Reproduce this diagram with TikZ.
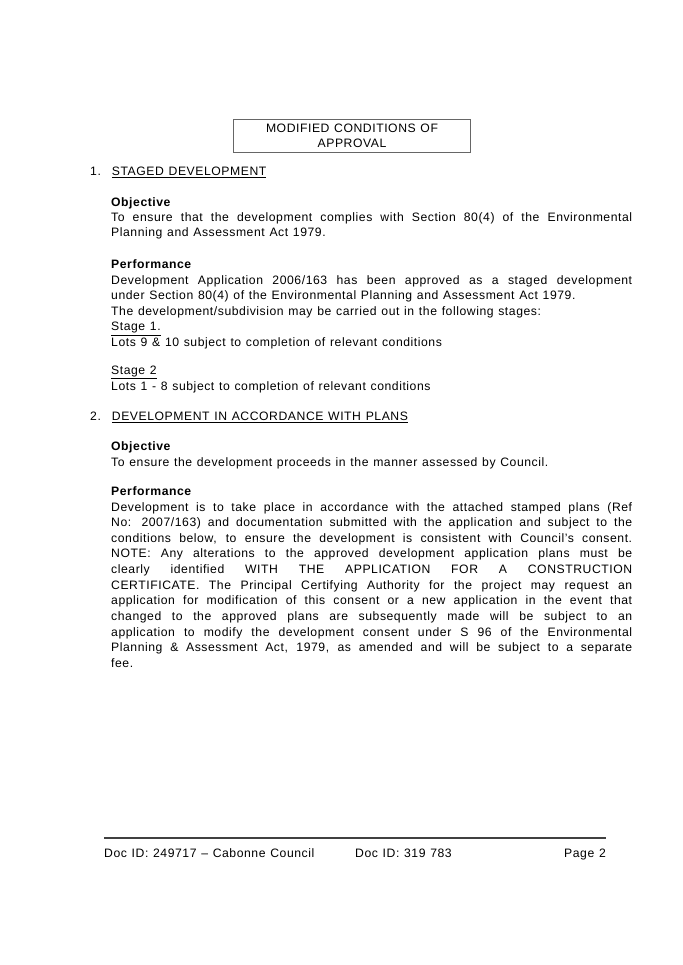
\documentclass[tikz,border=0pt]{standalone}
\usepackage{fontspec}
\setmainfont{Liberation Sans}[LetterSpace=4.5, WordSpace={1.2,1,1}]
\usetikzlibrary{positioning}
\tikzset{
  body/.style={anchor=north west, inner sep=0pt, text width=521pt, align=justify,
    font=\fontsize{12.2}{15.65}\selectfont},
  head/.style={anchor=north west, inner sep=0pt, font=\fontsize{12.2}{15.6}\selectfont},
  sub/.style={head, font=\fontsize{12.2}{15.6}\selectfont\bfseries},
  foot/.style={inner sep=0pt, font=\fontsize{12.2}{14}\selectfont}
}
\begin{document}
\begin{tikzpicture}[x=1pt,y=-1pt]
\useasboundingbox[fill=white] (0,0) rectangle (682,965);

% title box
\node (titlebox) [draw=black!60, minimum width=237pt, minimum height=33pt, align=center,
    inner sep=0pt, font=\fontsize{12.2}{15}\selectfont] at (352,136)
    {MODIFIED CONDITIONS OF\\APPROVAL};

% section 1
\node (sec1) [head] at (90,167) {1.\hspace{11pt}\underline{STAGED DEVELOPMENT}};
\node (obj1) [sub] at (111,197) {Objective};
\node (objtext1) [body] at (111,212) {To ensure that the development complies with Section 80(4) of the Environmental\linebreak
Planning and Assessment Act 1979.};
\node (perf1) [sub] at (111,259) {Performance};
\node (perftext1) [body] at (111,275) {Development Application 2006/163 has been approved as a staged development\linebreak
under Section 80(4) of the Environmental Planning and Assessment Act 1979.\\
The development/subdivision may be carried out in the following stages:\\
\underline{Stage 1.}\\
Lots 9 \& 10 subject to completion of relevant conditions};
\node (stage2) [body] at (111,366) {\underline{Stage 2}\\
Lots 1 - 8 subject to completion of relevant conditions};

% section 2
\node (sec2) [head] at (90,412) {2.\hspace{11pt}\underline{DEVELOPMENT IN ACCORDANCE WITH PLANS}};
\node (obj2) [sub] at (111,441) {Objective};
\node (objtext2) [body] at (111,457) {To ensure the development proceeds in the manner assessed by Council.};
\node (perf2) [sub] at (111,486) {Performance};
\node (perftext2) [body] at (111,502) {Development is to take place in accordance with the attached stamped plans (Ref\linebreak
No: 2007/163) and documentation submitted with the application and subject to the\linebreak
conditions below, to ensure the development is consistent with Council's consent.\linebreak
NOTE: Any alterations to the approved development application plans must be\linebreak
clearly identified WITH THE APPLICATION FOR A CONSTRUCTION\linebreak
CERTIFICATE. The Principal Certifying Authority for the project may request an\linebreak
application for modification of this consent or a new application in the event that\linebreak
changed to the approved plans are subsequently made will be subject to an\linebreak
application to modify the development consent under S 96 of the Environmental\linebreak
Planning \& Assessment Act, 1979, as amended and will be subject to a separate\linebreak
fee.};

% footer
\coordinate (rulea) at (104,838);
\coordinate (ruleb) at (606,838);
\draw [line width=2.2pt, black!75] (rulea) -- (ruleb);
\node (footl) [foot, anchor=base west] at (104,857) {Doc ID: 249717 -- Cabonne Council};
\node (footm) [foot, anchor=base west] at (355,857) {Doc ID: 319 783};
\node (footr) [foot, anchor=base east] at (606,857) {Page 2};
\end{tikzpicture}
\end{document}
